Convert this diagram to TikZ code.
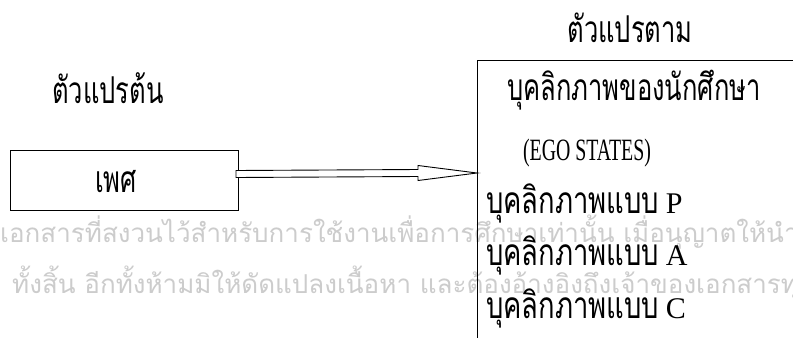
\documentclass[tikz,border=0pt]{standalone}
\usepackage{fontspec}
\setmainfont{Liberation Serif}[FakeStretch=0.64]
\newfontfamily\latinwide{Liberation Serif}
\newfontfamily\thai[Script=Thai,FakeStretch=0.69]{Loma}
\newfontfamily\thaiitem[Script=Thai,FakeStretch=0.74]{Loma}
\newfontfamily\wmfont[Script=Thai]{Loma}
\usetikzlibrary{calc}
\newcommand{\thaisize}{\thai\fontsize{37}{42}\selectfont}
\newcommand{\itemthai}[1]{{\thaiitem\fontsize{37}{42}\selectfont #1}}
\newcommand{\itemlatin}[1]{{\latinwide\fontsize{30}{34}\selectfont #1}}
\tikzset{
  box/.style={draw, line width=1pt},
  lbl/.style={inner sep=0pt, anchor=base, font=\thaisize},
  latin/.style={inner sep=0pt, anchor=base, font=\fontsize{31}{35}\selectfont},
  item/.style={inner sep=0pt, anchor=base west, font=\latinwide\fontsize{27}{32}\selectfont},
  wm/.style={inner sep=0pt, anchor=base west, text=black!20, font=\wmfont\fontsize{26}{30}\selectfont},
  frame/.style={line width=1pt},
  hollowarrow/.style={draw, line width=0.9pt, fill=white, line join=miter}
}
\begin{document}
\begin{tikzpicture}[x=1pt,y=-1pt]
\clip (0,0) rectangle (793,338);
\fill[white] (0,0) rectangle (793,338);
% watermark
\node[wm] (wm1) at (0,242) {เอกสารที่สงวนไว้สำหรับการใช้งานเพื่อการศึกษาเท่านั้น เมื่อนุญาตให้นำ};
\node[wm] (wm2) at (12,293) {ทั้งสิ้น อีกทั้งห้ามมิให้ดัดแปลงเนื้อหา และต้องอ้างอิงถึงเจ้าของเอกสารทุก};
% left side
\node[lbl] (indep) at (108,103) {ตัวแปรต้น};
\node[box, minimum width=228pt, minimum height=60pt, inner sep=0pt] (sexbox) at (124,180) {};
\node[lbl] (sex) at (116,192) {เพศ};
% right side frame
\coordinate (tl) at (477,60);
\coordinate (tr) at (793,60);
\coordinate (bl) at (477,338);
\draw[frame] (tr) -- (tl) -- (bl);
\node[lbl] (dep) at (630,42) {ตัวแปรตาม};
\node[lbl] (pers) at (634,100) {บุคลิกภาพของนักศึกษา};
\node[latin] (ego) at (587,160) {(EGO STATES)};
\node[item] (p) at (486,213) {\itemthai{บุคลิกภาพแบบ} \itemlatin{P}};
\node[item] (a) at (486,265) {\itemthai{บุคลิกภาพแบบ} \itemlatin{A}};
\node[item] (c) at (486,318) {\itemthai{บุคลิกภาพแบบ} \itemlatin{C}};
% hollow arrow
\coordinate (src) at (238,174);
\coordinate (tgt) at (477,173);
\draw[hollowarrow] ($(src)+(-2,-3.5)$) -- ($(tgt)+(-59,-3.5)$) -- ($(tgt)+(-59,-7.5)$) -- (tgt)
  -- ($(tgt)+(-59,7.5)$) -- ($(tgt)+(-59,3.5)$) -- ($(src)+(-2,3.5)$) -- cycle;
\end{tikzpicture}
\end{document}
